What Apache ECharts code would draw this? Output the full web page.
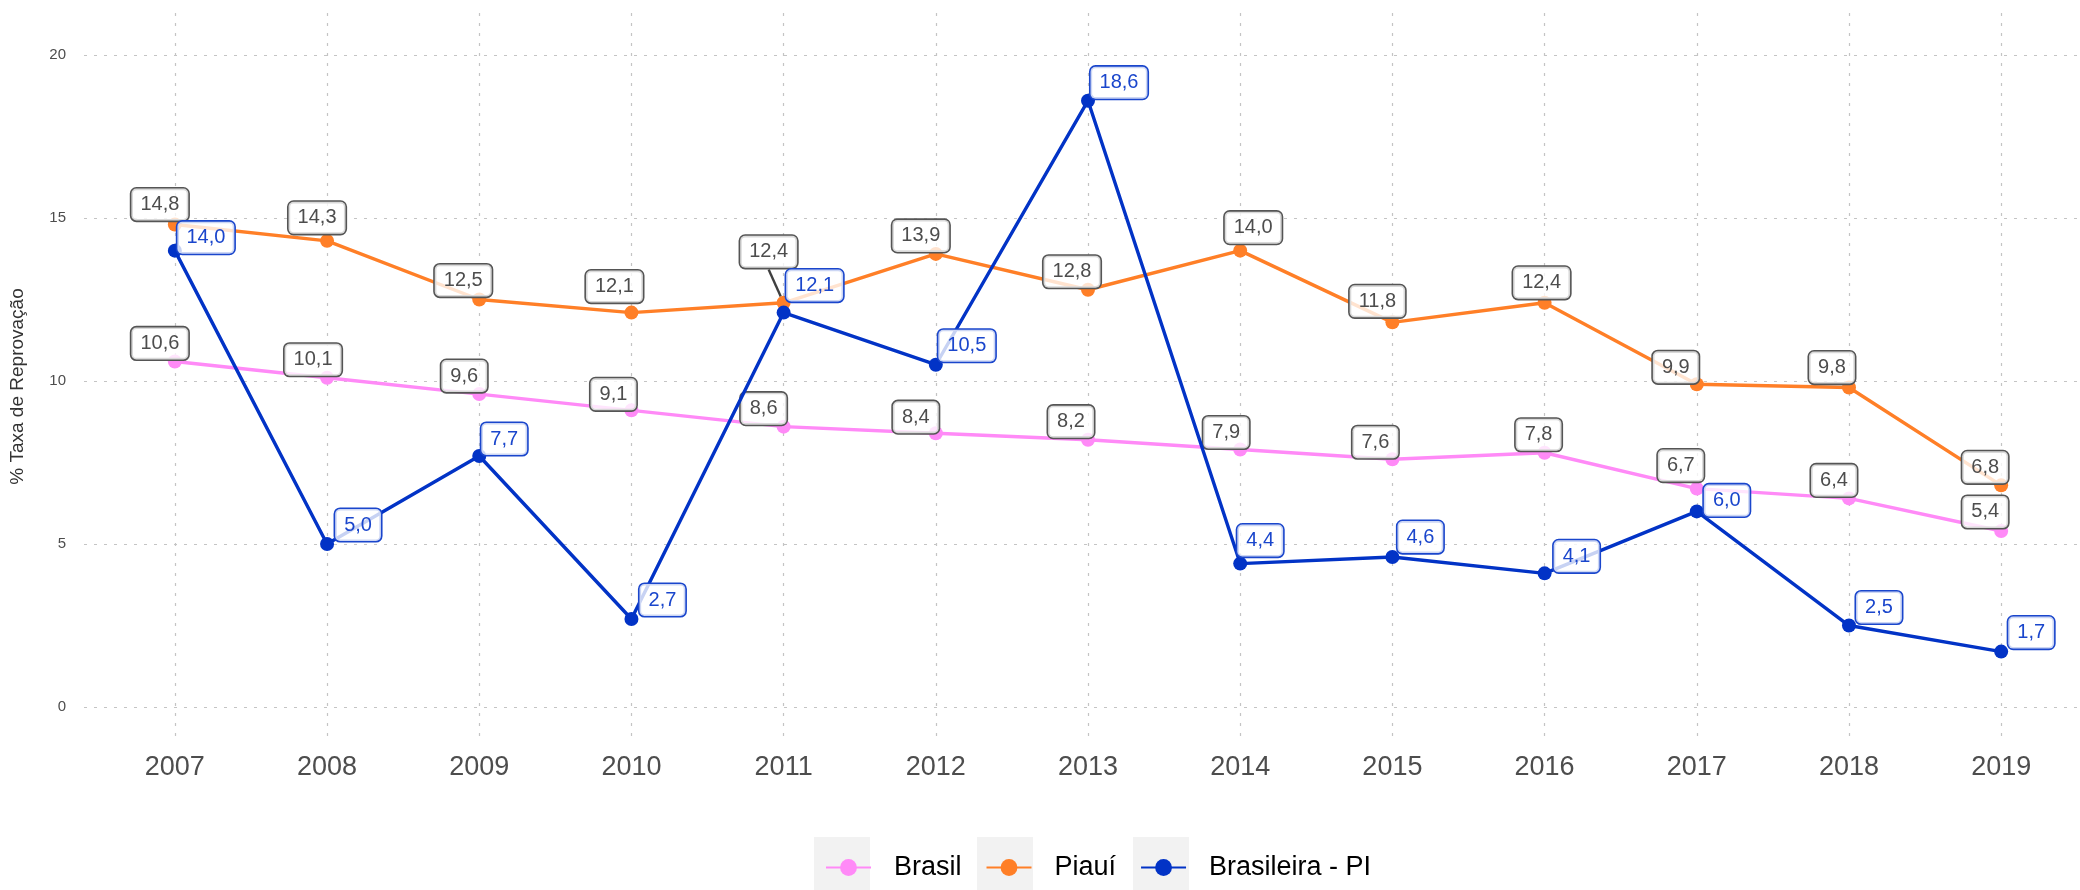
<!DOCTYPE html>
<html>
<head>
<meta charset="utf-8">
<script src="https://cdn.jsdelivr.net/npm/echarts@6/dist/echarts.min.js"></script>
<style>
  html, body { margin: 0; padding: 0; background: #ffffff; }
  #chart { width: 2080px; height: 890px; }
</style>
</head>
<body>
<div id="chart"></div>
<script>
// Taxa de reprovação (%) por ano
const years = [2007, 2008, 2009, 2010, 2011, 2012, 2013, 2014, 2015, 2016, 2017, 2018, 2019];
const brasil = [10.6, 10.1, 9.6, 9.1, 8.6, 8.4, 8.2, 7.9, 7.6, 7.8, 6.7, 6.4, 5.4];
const piaui = [14.8, 14.3, 12.5, 12.1, 12.4, 13.9, 12.8, 14.0, 11.8, 12.4, 9.9, 9.8, 6.8];
const brasileiraPI = [14.0, 5.0, 7.7, 2.7, 12.1, 10.5, 18.6, 4.4, 4.6, 4.1, 6.0, 2.5, 1.7];
const seriesNames = ['Brasil', 'Piauí', 'Brasileira - PI'];
const yTicks = [0, 5, 10, 15, 20];

// Label nudges in pixels (dx, dy) from each point, so the boxes don't collide
const brasilNudge = [[-15,-18],[-14,-18],[-15,-18],[-18,-16],[-20,-18],[-20,-16],[-17,-18],[-14,-17],[-17,-17],[-6,-18],[-16,-23],[-15,-18],[-16,-19]];
const piauiNudge = [[-15,-20],[-10,-23],[-16,-19],[-17,-26],[-15,-51],[-15,-18],[-16,-18],[13,-23],[-15,-21],[-3,-20],[-21,-17],[-17,-20],[-16,-18]];
const blueNudge = [[31,-13],[31,-19],[25,-17],[31,-19],[31,-27],[31,-19],[31,-18],[20,-23],[28,-20],[32,-17],[30,-11],[30,-18],[30,-19]];

const FONT = '"Liberation Sans", Arial, Helvetica, sans-serif';
const colors = { brasil: '#ff8af7', piaui: '#ff7f27', blue: '#0233c6' };

const fmt = v => v.toFixed(1).replace('.', ',');

function labelStyle(textColor, borderColor) {
  return {
    show: true,
    position: 'inside',
    formatter: p => fmt(p.value[1]),
    fontFamily: FONT,
    fontSize: 20,
    lineHeight: 23,
    color: textColor,
    backgroundColor: 'rgba(255,255,255,0.78)',
    borderColor: borderColor,
    borderWidth: 1.6,
    borderRadius: 5,
    padding: [5, 9, 4, 9]
  };
}

function makeSeries(name, values, color, nudge, textColor, borderColor, z, leaderIdx) {
  return {
    name: name,
    type: 'line',
    z: z,
    data: years.map((y, i) => {
      const item = { value: [y, values[i]] };
      if (i === leaderIdx) {
        item.labelLine = { show: true, lineStyle: { color: '#404040', width: 2.4 } };
      }
      return item;
    }),
    symbol: 'circle',
    symbolSize: 14,
    showSymbol: true,
    itemStyle: { color: color },
    lineStyle: { color: color, width: 3.4 },
    label: labelStyle(textColor, borderColor),
    labelLine: { show: false },
    labelLayout: p => ({ dx: nudge[p.dataIndex][0], dy: nudge[p.dataIndex][1] }),
    emphasis: { disabled: true },
    animation: false
  };
}

const chart = echarts.init(document.getElementById('chart'), null, { renderer: 'canvas' });

// grey key panels behind legend symbols
const keyBoxes = [814, 977, 1133].map(x => ({
  type: 'rect',
  shape: { x: x, y: 837, width: 56, height: 53 },
  style: { fill: '#f2f2f2' },
  z: -1
}));

chart.setOption({
  backgroundColor: '#ffffff',
  animation: false,
  textStyle: { fontFamily: FONT },
  grid: { left: 80, right: 0, top: 13, bottom: 150, containLabel: false },
  graphic: keyBoxes,
  legend: {
    data: seriesNames,
    left: 820,
    top: 863 - 14,
    itemWidth: 45,
    itemHeight: 21,
    itemGap: 24,
    textStyle: { fontFamily: FONT, fontSize: 27, color: '#000000', padding: [0, 0, 0, 18] }
  },
  xAxis: {
    type: 'value',
    min: 2006.403,
    max: 2019.518,
    axisLine: { show: false },
    axisTick: { show: false, customValues: years },
    axisLabel: {
      customValues: years,
      formatter: v => String(v),
      fontFamily: FONT,
      fontSize: 27,
      color: '#4d4d4d',
      margin: 14
    },
    splitLine: { show: true, lineStyle: { color: '#c4c4c4', width: 1.2, type: [3, 7] } }
  },
  yAxis: {
    type: 'value',
    min: -1.012,
    max: 21.29,
    name: '% Taxa de Reprovação',
    nameLocation: 'middle',
    nameGap: 57,
    nameRotate: 90,
    nameTextStyle: { fontFamily: FONT, fontSize: 19, color: '#333333', padding: [0, 20, 0, 0] },
    axisLine: { show: false },
    axisTick: { show: false, customValues: yTicks },
    axisLabel: {
      customValues: yTicks,
      fontFamily: FONT,
      fontSize: 15,
      color: '#4d4d4d',
      margin: 18
    },
    splitLine: { show: true, lineStyle: { color: '#c4c4c4', width: 1.2, type: [3, 7] } }
  },
  series: [
    makeSeries(seriesNames[0], brasil, colors.brasil, brasilNudge, '#4d4d4d', '#555555', 2, -1),
    makeSeries(seriesNames[1], piaui, colors.piaui, piauiNudge, '#4d4d4d', '#555555', 3, 4),
    makeSeries(seriesNames[2], brasileiraPI, colors.blue, blueNudge, '#1a46cc', '#1a46cc', 4, -1)
  ]
});
</script>
</body>
</html>
